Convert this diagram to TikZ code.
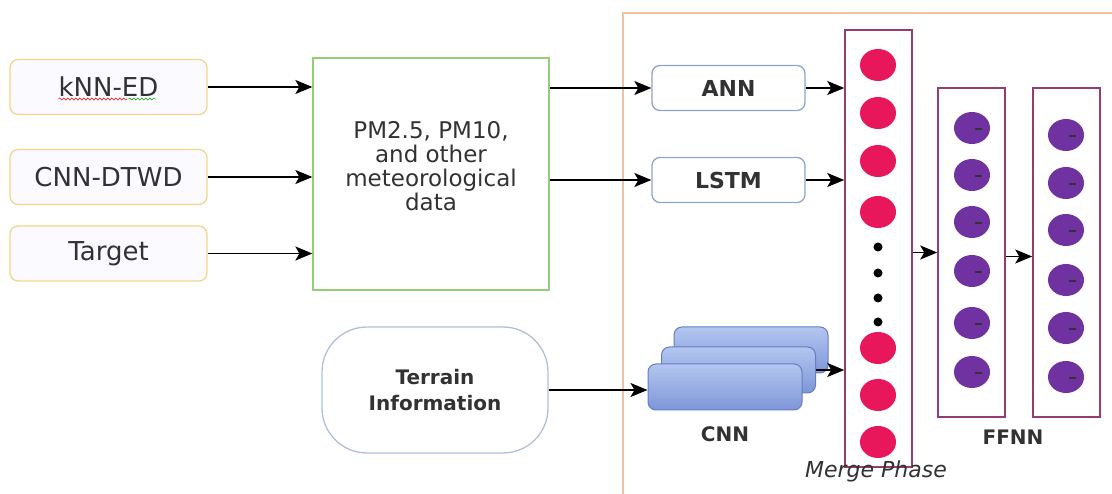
\documentclass[tikz,border=0pt]{standalone}
\usepackage{fontspec}
\setmainfont{DejaVu Sans}
\usetikzlibrary{arrows.meta,calc,shapes.geometric,decorations.pathmorphing}
\definecolor{srcline}{RGB}{240,214,140}
\definecolor{dataline}{RGB}{150,205,120}
\definecolor{modline}{RGB}{140,165,200}
\definecolor{layline}{RGB}{150,60,110}
\definecolor{unitred}{RGB}{232,22,90}
\definecolor{unitpurple}{RGB}{112,50,160}
\definecolor{cnnline}{RGB}{100,125,195}
\definecolor{cnntop}{RGB}{180,198,240}
\definecolor{cnnbottom}{RGB}{125,150,215}
\definecolor{outline}{RGB}{240,195,160}
\definecolor{txt}{RGB}{50,50,50}

\begin{document}
\begin{tikzpicture}[x=1pt,y=-1pt]
			\tikzset{arr/.style={-{Stealth[length=17pt,width=14pt,inset=4pt]},line width=1.5pt},
				every node/.style={text=txt,font=\fontsize{20}{24}\selectfont},
				srcbox/.style={draw=srcline,line width=1.3pt,rounded corners=8pt,fill=blue!2,minimum width=197pt,minimum height=55pt,font=\fontsize{26}{30}\selectfont},
				databox/.style={draw=dataline,line width=1.3pt,minimum width=236pt,minimum height=232pt,align=center,font=\fontsize{23}{24}\selectfont},
				modbox/.style={draw=modline,line width=1.3pt,rounded corners=8pt,minimum width=153pt,minimum height=45pt,font=\fontsize{22}{24}\selectfont\bfseries},
				layer/.style={draw=layline,line width=1.5pt,minimum width=67pt},
				redunit/.style={ellipse,fill=unitred,minimum width=36pt,minimum height=32pt,inner sep=0pt},
				purpleunit/.style={ellipse,fill=unitpurple,minimum width=36pt,minimum height=32pt,inner sep=0pt},
				cnnbox/.style={draw=cnnline,line width=1pt,rounded corners=8pt,top color=cnntop,bottom color=cnnbottom,minimum width=154pt,minimum height=46pt}}
			\useasboundingbox (0,0) rectangle (1112,494);

			% outer frame of the model part
			\draw[outline,line width=2pt] (1112,13) -- (623,13) -- (623,494);

			% inputs
			\node[srcbox] (knn) at (108.5,87) {kNN-ED};
			\node[srcbox] (dtwd) at (108.5,177) {CNN-DTWD};
			\node[srcbox] (target) at (108.5,253.5) {Target};
			\draw[red,decorate,decoration={snake,amplitude=1pt,segment length=4pt}] ($(knn.center)+(-50,12)$) -- ++(70,0);
			\draw[green!60!black,decorate,decoration={snake,amplitude=1pt,segment length=4pt}] ($(knn.center)+(20,12)$) -- ++(28,0);

			\node[databox] (data) at (431,174) {PM2.5, PM10,\\and other\\meteorological\\data\\[-8pt]};
			\node[draw=modline!70,line width=1.3pt,rounded corners=45pt,minimum width=226pt,minimum height=126pt,align=center,font=\fontsize{20}{26}\selectfont\bfseries] (terrain) at (435,390) {Terrain\\Information};

			\foreach \src in {knn,dtwd,target}
				\draw[arr] (\src) -- (\src -| data.west);

			% models
			\node[modbox] (ann) at (728.5,88) {ANN};
			\node[modbox] (lstm) at (728.5,180) {LSTM};
			\node[cnnbox] (cnnback) at (751,350) {};
			\node[cnnbox] (cnnmid) at (738.5,370) {};
			\node[cnnbox] (cnnfront) at (725,387) {};
			\node[font=\fontsize{20}{24}\selectfont\bfseries] (cnnlabel) at (725,434) {CNN};

			\draw[arr] (data.east |- ann) -- (ann);
			\draw[arr] (data.east |- lstm) -- (lstm);
			\draw[arr] (terrain) -- (terrain -| cnnfront.west);

			% merge phase
			\node[layer,minimum height=437pt] (merge) at (878.5,248.5) {};
			\foreach \y [count=\i] in {65,113,161,212,348,395,442}
				\node[redunit] (m\i) at (878,\y) {};
			\foreach \y [count=\i] in {247,273,298,322}
				\fill[black] (878,\y) circle (4.5) coordinate (dot\i);
			\node[font=\fontsize{22}{24}\selectfont\itshape] (mergelabel) at (876,471) {Merge Phase};

			\draw[arr] (ann) -- (ann -| merge.west);
			\draw[arr] (lstm) -- (lstm -| merge.west);
			\draw[arr] (cnnmid.east) -- (cnnmid.east -| merge.west);

			% FFNN
			\node[layer,minimum height=329pt] (fa) at (971.5,252.5) {};
			\node[layer,minimum height=329pt] (fb) at (1066.5,252.5) {};
			\foreach \y [count=\i] in {128,175,222,271,323,372}{
				\node[purpleunit] (a\i) at (972,\y) {};
				\draw[black!80,line width=1.2pt] ($(a\i)+(3,1)$) -- ++(7,0);
			}
			\foreach \y [count=\i] in {135,183,230,280,328,377}{
				\node[purpleunit] (b\i) at (1066,\y) {};
				\draw[black!80,line width=1.2pt] ($(b\i)+(3,1)$) -- ++(7,0);
			}
			\node[font=\fontsize{20}{24}\selectfont\bfseries] (ffnnlabel) at (1013,437) {FFNN};

			\draw[arr] (fa -| merge.east) -- (fa.west);
			\draw[arr] ($(fa.east)+(0,4)$) -- ($(fb.west)+(0,4)$);
		\end{tikzpicture}
\end{document}
